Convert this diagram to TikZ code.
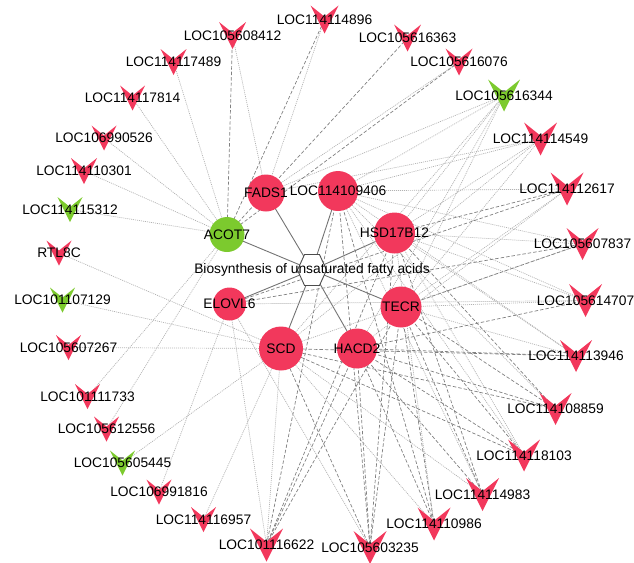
\documentclass[tikz,border=0pt]{standalone}
\usepackage{fontspec}
\setmainfont{Liberation Sans}
\usepackage{xcolor}
\usepackage{tikz}
\definecolor{hubred}{RGB}{242,56,92}
\definecolor{hubgreen}{RGB}{124,202,46}
\pgfdeclarelayer{bg}
\pgfsetlayers{bg,main}

\begin{document}
\begin{tikzpicture}[x=1pt, y=-1pt, font=\fontsize{13.8}{16}\selectfont,
    hub/.style={circle, inner sep=0pt},
    vtext/.style={inner sep=0pt},
    dotline/.style={draw=black!30, line width=0.7pt, dash pattern=on 1pt off 1pt},
    dashline/.style={draw=black!50, line width=0.7pt, dash pattern=on 3.5pt off 2pt},
    hexline/.style={draw=black!55, line width=0.9pt}]
  \useasboundingbox (0,0) rectangle (634,562);

  % pathway in the middle
  \coordinate (pathway) at (312,270);
  \draw[draw=black!70, fill=white, line width=0.9pt] (297.5,270) -- (304.5,254.5)
    -- (319.5,254.5) -- (326.5,270) -- (319.5,285.5) -- (304.5,285.5) -- cycle;
  \node (pathlabel) at (pathway) {Biosynthesis of unsaturated fatty acids};

  % genes
  \node[hub, fill=hubred, minimum size=37pt, label=center:FADS1] (fads1) at (266,193) {};
  \node[hub, fill=hubred, minimum size=40pt, label=center:LOC114109406] (loc109406) at (338,191) {};
  \node[hub, fill=hubred, minimum size=41pt, label=center:HSD17B12] (hsd17b12) at (394.5,233) {};
  \node[hub, fill=hubgreen, minimum size=35pt, label=center:ACOT7] (acot7) at (227,234.5) {};
  \node[hub, fill=hubred, minimum size=33pt, label=center:ELOVL6] (elovl6) at (229.5,304) {};
  \node[hub, fill=hubred, minimum size=41pt, label=center:TECR] (tecr) at (401,307) {};
  \node[hub, fill=hubred, minimum size=44pt, label=center:SCD] (scd) at (281,348.5) {};
  \node[hub, fill=hubred, minimum size=40pt, label=center:HACD2] (hacd2) at (357,348.5) {};

  % lncRNAs
  \foreach \n/\x/\y/\s/\c/\t in {
      loc608412/232.5/35.5/13.5/hubred/LOC105608412,
      loc117489/173.5/62/13/hubred/LOC114117489,
      loc117814/132.5/98/12.5/hubred/LOC114117814,
      loc990526/104/138/12.5/hubred/LOC106990526,
      loc110301/84/171/13/hubred/LOC114110301,
      loc115312/70/209.5/12.5/hubgreen/LOC114115312,
      rtl8c/59/253/12.5/hubred/RTL8C,
      loc114896/324.5/19.5/14/hubred/LOC114114896,
      loc616363/407.5/38/13.5/hubred/LOC105616363,
      loc616076/459/62/13.5/hubred/LOC105616076,
      loc616344/504/95.5/16/hubgreen/LOC105616344,
      loc114549/540.5/139/16.5/hubred/LOC114114549,
      loc112617/567/189/16.5/hubred/LOC114112617,
      loc607837/582.5/244/16/hubred/LOC105607837,
      loc614707/585.5/300.5/16.5/hubred/LOC105614707,
      loc113946/576/356/16/hubred/LOC114113946,
      loc108859/555.5/409/16/hubred/LOC114108859,
      loc118103/524/455.5/16/hubred/LOC114118103,
      loc114983/482.5/494.5/16.5/hubred/LOC114114983,
      loc110986/434/524/16.5/hubred/LOC114110986,
      loc603235/370/547.5/16.5/hubred/LOC105603235,
      loc116622/266.5/545/16.5/hubred/LOC101116622,
      loc116957/203.5/519.5/12.5/hubred/LOC114116957,
      loc991816/159/492/12.5/hubred/LOC106991816,
      loc605445/122.5/463/12.5/hubgreen/LOC105605445,
      loc612556/106.5/429/12.5/hubred/LOC105612556,
      loc111733/87.5/396.5/12.5/hubred/LOC101111733,
      loc607267/68.5/347.5/12.5/hubred/LOC105607267,
      loc107129/62.5/300/12.5/hubgreen/LOC101107129}
  {
    \fill[\c] ({\x-\s},{\y-\s}) -- (\x,{\y-0.2*\s}) -- ({\x+\s},{\y-\s}) -- (\x,{\y+\s}) -- cycle;
    \node[vtext] (\n) at (\x,\y) {\t};
  }

  \begin{pgfonlayer}{bg}
    \foreach \a in {fads1,loc109406,hsd17b12,acot7,elovl6,tecr,scd,hacd2}
      \draw[hexline] (pathway) -- (\a.center);
    % dotted links
    \foreach \a/\b in {
        acot7/loc117489, acot7/loc117814, acot7/loc990526, acot7/loc110301,
        acot7/loc115312, acot7/loc111733, acot7/loc612556,
        fads1/loc608412, fads1/loc114896, fads1/loc616076,
        scd/rtl8c, scd/loc107129, scd/loc607267, scd/loc605445, scd/loc116957,
        elovl6/loc991816, elovl6/loc116622, elovl6/loc603235, elovl6/loc614707,
        fads1/loc616344, loc109406/loc616344, hsd17b12/loc616344, tecr/loc616344,
        hacd2/loc616344, scd/loc616344,
        fads1/loc114549, loc109406/loc114549, hsd17b12/loc114549, tecr/loc114549,
        scd/loc114549,
        loc109406/loc112617, tecr/loc112617, hacd2/loc112617,
        loc109406/loc607837, hsd17b12/loc607837, scd/loc607837,
        loc109406/loc614707, hsd17b12/loc614707, tecr/loc614707,
        loc109406/loc113946, hsd17b12/loc113946, tecr/loc113946,
        loc109406/loc108859,
        loc109406/loc118103, hsd17b12/loc118103,
        loc109406/loc114983, scd/loc114983,
        hsd17b12/loc110986, scd/loc110986,
        scd/loc116622}
      \draw[dotline] (\a.center) -- (\b.center);
    % dashed links
    \foreach \a/\b in {
        acot7/loc608412, acot7/loc114896, acot7/loc616363, acot7/loc616076,
        hsd17b12/loc112617, elovl6/loc112617,
        elovl6/loc607837, tecr/loc607837,
        hacd2/loc614707,
        hacd2/loc113946, scd/loc113946,
        hsd17b12/loc108859, tecr/loc108859, hacd2/loc108859, scd/loc108859,
        tecr/loc118103, hacd2/loc118103, scd/loc118103,
        hsd17b12/loc114983, tecr/loc114983, hacd2/loc114983,
        loc109406/loc110986, tecr/loc110986, hacd2/loc110986,
        loc109406/loc603235, hsd17b12/loc603235, tecr/loc603235,
        hacd2/loc603235, scd/loc603235,
        loc109406/loc116622, hsd17b12/loc116622, tecr/loc116622, hacd2/loc116622}
      \draw[dashline] (\a.center) -- (\b.center);
  \end{pgfonlayer}
\end{tikzpicture}
\end{document}
